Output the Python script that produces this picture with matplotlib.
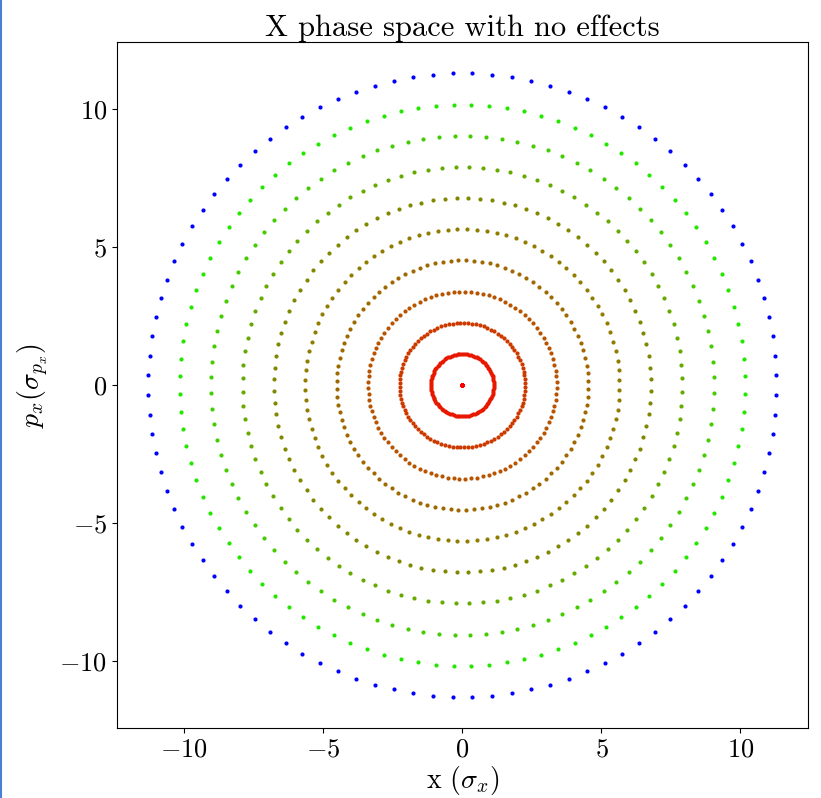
import numpy as np
import matplotlib
matplotlib.use("Agg")
from matplotlib import pyplot as plt
from matplotlib.lines import Line2D

plt.rcParams['font.family'] = 'serif'
plt.rcParams['font.serif'] = ['cmr10']
plt.rcParams['mathtext.fontset'] = 'cm'
plt.rcParams['axes.formatter.use_mathtext'] = True
plt.rcParams['font.size'] = 16

# amplitude of each ring of particles (in sigma) and its colour
amplitudes = [0.0, 1.13, 2.26, 3.39, 4.52, 5.65, 6.78, 7.91, 9.04, 10.17, 11.30]
ring_colors = ['#ff0000', '#e81800', '#cc3a00', '#b85400', '#a06800', '#907c00',
               '#808800', '#66aa00', '#44cc00', '#22e800', '#0000ff']
n_particles = 100

fig = plt.figure(figsize=(8.21, 7.98), dpi=100)
ax = fig.add_axes([0.1425, 0.0877, 0.8415, 0.8593])

phase = (np.arange(n_particles) + 0.5) * 2 * np.pi / n_particles
for amp, col in zip(amplitudes, ring_colors):
    x = amp * np.cos(phase)
    px = amp * np.sin(phase)
    ax.scatter(x, px, s=9, color=col, linewidths=0)

ax.set_title('X phase space with no effects', fontsize=22, pad=4)
ax.set_xlabel(r'x ($\sigma_x$)', fontsize=20, labelpad=2)
ax.set_ylabel(r'$p_x (\sigma_{p_x})$', fontsize=20, labelpad=6)
ax.set_xticks([-10, -5, 0, 5, 10])
ax.set_yticks([-10, -5, 0, 5, 10])
ax.tick_params(labelsize=19)

# thin blue strip down the left edge of the window
fig.add_artist(Line2D([0.0015, 0.0015], [0, 1], color='#4a7fd6', lw=1.5,
                      transform=fig.transFigure))

fig.savefig('out.png', dpi=100)
